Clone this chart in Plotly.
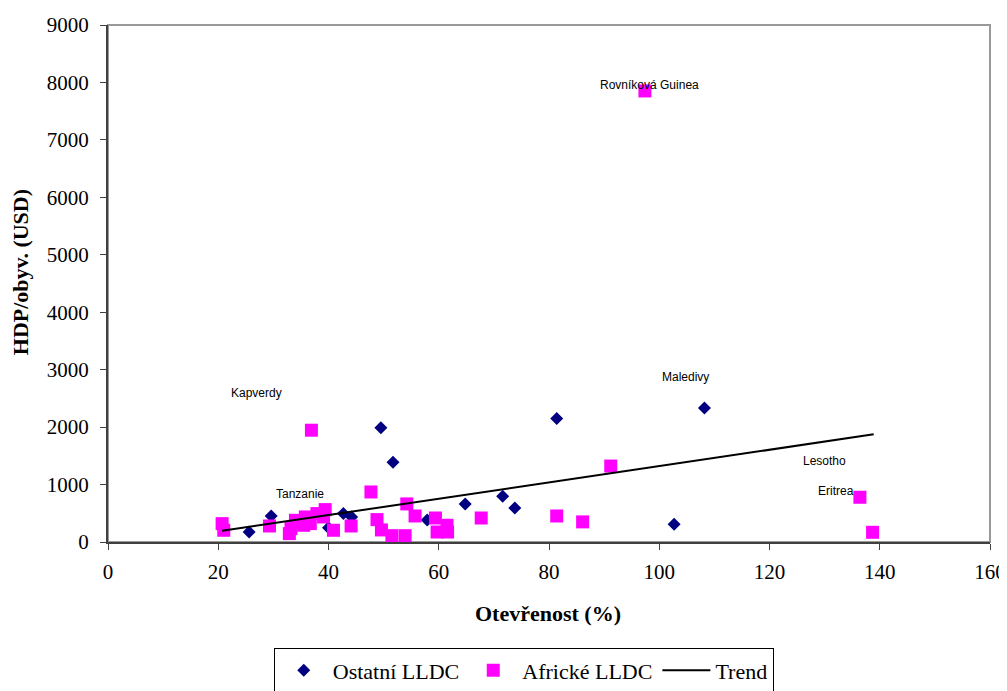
import plotly.graph_objects as go

# Ostatní LLDC (openness %, GDP per capita USD)
ostatni_x = [25.6, 29.6, 40.0, 42.7, 44.2, 49.5, 51.7, 57.9, 64.8, 71.6, 73.8, 81.4, 102.7, 108.2]
ostatni_y = [174, 453, 250, 495, 436, 1990, 1390, 385, 660, 798, 592, 2152, 310, 2334]

# Africké LLDC
africke_x = [20.7, 21.0, 29.3, 32.9, 33.2, 34.0, 35.5, 35.8, 36.7, 36.9, 37.9, 39.1, 39.4, 40.9,
             44.1, 47.7, 48.8, 49.6, 51.5, 53.9, 54.2, 55.7, 59.4, 59.7, 61.5, 61.6, 67.7, 81.4,
             86.1, 91.2, 97.4, 136.4, 138.7]
africke_y = [320, 204, 279, 146, 233, 378, 291, 436, 320, 1946, 495, 436, 564, 204,
             279, 871, 390, 210, 110, 110, 663, 453, 418, 174, 291, 174, 418, 453,
             350, 1322, 7852, 779, 169]

# Trend line endpoints
trend_x = [20.7, 138.9]
trend_y = [195, 1874]

# Point labels
label_text = ["Rovníková Guinea", "Kapverdy", "Tanzanie", "Maledivy", "Lesotho", "Eritrea"]
label_x = [98.3, 26.9, 34.9, 104.7, 130.0, 132.0]
label_y = [7950, 2590, 831, 2870, 1406, 883]

x_ticks = [0, 20, 40, 60, 80, 100, 120, 140, 160]
y_ticks = [0, 1000, 2000, 3000, 4000, 5000, 6000, 7000, 8000, 9000]

serif = "Liberation Serif, Times New Roman, serif"
sans = "Liberation Sans, Arial, sans-serif"

# figure is drawn inside the page's 8px body margin
L, R, T, B = 99.5, 982.0, 17.0, 533.7
W, H = 999, 683
pw, ph = R - L, B - T

fig = go.Figure()
fig.add_trace(go.Scatter(
    x=ostatni_x, y=ostatni_y, mode="markers", name="Ostatní LLDC",
    marker=dict(symbol="diamond", size=10, color="#000080", line=dict(width=0)),
))
fig.add_trace(go.Scatter(
    x=africke_x, y=africke_y, mode="markers", name="Africké LLDC",
    marker=dict(symbol="square", size=13, color="#FF00FF", line=dict(width=0)),
))
fig.add_trace(go.Scatter(
    x=trend_x, y=trend_y, mode="lines", name="Trend",
    line=dict(color="black", width=2),
))

for t, lx, ly in zip(label_text, label_x, label_y):
    fig.add_annotation(x=lx, y=ly, text=t, showarrow=False,
                       xanchor="center", yanchor="middle",
                       font=dict(family=sans, size=12, color="black"))

fig.add_annotation(xref="paper", yref="paper", x=(540 - L) / pw, y=(B - 605) / ph,
                   xanchor="center", yanchor="middle",
                   text="<b>Otevřenost (%)</b>", showarrow=False,
                   font=dict(family=serif, size=22, color="black"))
fig.add_annotation(xref="paper", yref="paper", x=(12 - L) / pw, y=(B - 264.5) / ph,
                   xanchor="center", yanchor="middle",
                   text="<b>HDP/obyv. (USD)</b>", showarrow=False, textangle=-90,
                   font=dict(family=serif, size=22, color="black"))

fig.update_layout(
    width=W, height=H,
    margin=dict(l=L, r=W - R, t=T, b=H - B, autoexpand=False),
    plot_bgcolor="white", paper_bgcolor="white",
    showlegend=True,
    legend=dict(
        orientation="h", x=(515.5 - L) / pw, xanchor="center", y=(B - 640) / ph, yanchor="top",
        bordercolor="black", borderwidth=1,
        font=dict(family=serif, size=22, color="black"),
        itemwidth=48,
    ),
    shapes=[dict(type="rect", xref="paper", yref="paper", x0=0, y0=0, x1=1, y1=1,
                 line=dict(color="#999999", width=2), layer="below")],
)
fig.update_xaxes(
    range=[0, 160], tickvals=x_ticks, showgrid=False, zeroline=False,
    showline=True, linecolor="#404040", linewidth=2,
    ticks="outside", ticklen=6, tickcolor="#404040", tickwidth=1,
    tickfont=dict(family=serif, size=21, color="black"), ticklabelstandoff=4,
)
fig.update_yaxes(
    range=[0, 9000], tickvals=y_ticks, showgrid=False, zeroline=False,
    showline=True, linecolor="#404040", linewidth=2,
    ticks="outside", ticklen=6, tickcolor="#404040", tickwidth=1,
    tickfont=dict(family=serif, size=21, color="black"), ticklabelstandoff=7,
)

fig.write_html("out.html")
